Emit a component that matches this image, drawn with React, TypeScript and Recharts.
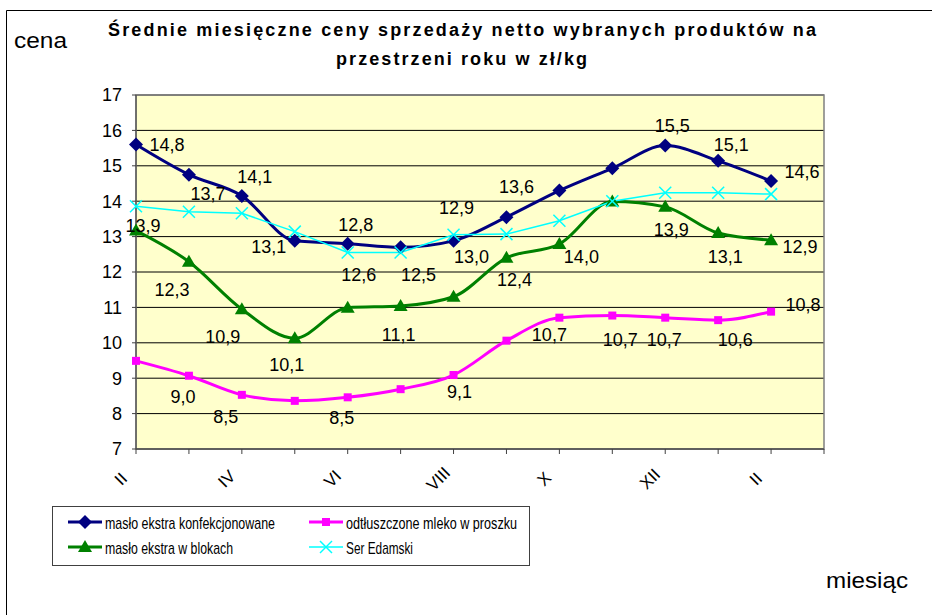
import React from 'react';
import { LineChart, Line, XAxis, YAxis, CartesianGrid, ReferenceArea } from 'recharts';

// miesiące (luty -> luty następnego roku)
const months = ['II', 'III', 'IV', 'V', 'VI', 'VII', 'VIII', 'IX', 'X', 'XI', 'XII', 'I', 'II'];

// ceny w zł/kg
const masloKonf = [15.6, 14.75, 14.15, 12.88, 12.8, 12.7, 12.88, 13.55, 14.3, 14.93, 15.57, 15.14, 14.57];
const mlekoProszek = [9.49, 9.07, 8.53, 8.36, 8.46, 8.69, 9.09, 10.06, 10.71, 10.77, 10.71, 10.64, 10.88];
const masloBloki = [13.17, 12.29, 10.95, 10.13, 10.99, 11.04, 11.3, 12.4, 12.79, 13.99, 13.84, 13.1, 12.9];
const serEdamski = [13.86, 13.7, 13.66, 13.14, 12.55, 12.55, 13.05, 13.07, 13.45, 14.0, 14.24, 14.24, 14.2];

// etykiety danych tak jak na oryginale
const masloKonfLabels = ['14,8', null, '14,1', null, '12,8', null, '12,9', '13,6', null, null, '15,5', '15,1', '14,6'];
const mlekoLabels = [null, '9,0', '8,5', null, '8,5', null, '9,1', null, '10,7', '10,7', '10,7', '10,6', '10,8'];
const masloBlokiLabels = [null, '12,3', '10,9', '10,1', null, '11,1', null, '12,4', '14,0', null, '13,9', '13,1', '12,9'];
const serLabels = ['13,9', '13,7', null, '13,1', '12,6', '12,5', '13,0', null, null, null, null, null, null];

const yTicks = [7, 8, 9, 10, 11, 12, 13, 14, 15, 16, 17];

const data = months.map((m, i) => ({
  i,
  month: m,
  konf: masloKonf[i],
  mleko: mlekoProszek[i],
  bloki: masloBloki[i],
  ser: serEdamski[i],
}));

// where each data label sits relative to its point (dx, dy)
const konfOff: Record<number, [number, number]> = {
  0: [31, 0], 2: [13, -19], 4: [8, -19], 6: [3, -33], 7: [10, -30], 10: [7, -20], 11: [13, -16], 12: [31, -9],
};
const serOff: Record<number, [number, number]> = {
  0: [7, 20], 1: [19, -18], 3: [-26, 15], 4: [11, 22], 5: [18, 22], 6: [18, 22],
};
const blokiOff: Record<number, [number, number]> = {
  1: [-17, 28], 2: [-19, 28], 3: [-8, 27], 5: [-2, 29], 7: [8, 22], 8: [22, 13], 10: [6, 23], 11: [7, 24], 12: [29, 7],
};
const mlekoOff: Record<number, [number, number]> = {
  1: [-6, 21], 2: [-16, 22], 4: [-6, 21], 6: [6, 17], 8: [-10, 17], 9: [8, 24], 10: [-1, 22], 11: [17, 20], 12: [32, -7],
};

const FONT = '"Liberation Sans", Arial, sans-serif';
const NAVY = '#000080';
const GREEN = '#008000';
const PINK = '#FF00FF';
const CYAN = '#00FFFF';

const Marker = ({ kind, cx, cy, color }: { kind: string; cx: number; cy: number; color: string }) => {
  if (kind === 'diamond')
    return <polygon points={`${cx},${cy - 7} ${cx + 7},${cy} ${cx},${cy + 7} ${cx - 7},${cy}`} fill={color} />;
  if (kind === 'triangle')
    return <polygon points={`${cx},${cy - 7} ${cx + 7},${cy + 5} ${cx - 7},${cy + 5}`} fill={color} />;
  if (kind === 'square') return <rect x={cx - 4} y={cy - 4} width={8} height={8} fill={color} />;
  return (
    <g stroke={color} strokeWidth={1.5}>
      <line x1={cx - 6} y1={cy - 6} x2={cx + 6} y2={cy + 6} />
      <line x1={cx - 6} y1={cy + 6} x2={cx + 6} y2={cy - 6} />
    </g>
  );
};

const makeDot = (kind: string, color: string, labels: (string | null)[], offs: Record<number, [number, number]>) =>
  (props: any) => {
    const { cx, cy, index } = props;
    const t = labels[index];
    const o = offs[index] || [0, 0];
    return (
      <g key={`dot-${kind}-${index}`}>
        <Marker kind={kind} cx={cx} cy={cy} color={color} />
        {t && (
          <text x={cx + o[0]} y={cy + o[1]} textAnchor="middle" dominantBaseline="central"
            fontSize={18} fontFamily={FONT} fill="#000">{t}</text>
        )}
      </g>
    );
  };

const MonthTick = (props: any) => {
  const { x, y, payload } = props;
  const idx = payload.value;
  if (idx % 2 !== 0 || !months[idx]) return null;
  const cx = x - 15;
  const cy = y + 25;
  return (
    <text x={cx} y={cy} textAnchor="middle" dominantBaseline="central" fontSize={17} fontFamily={FONT}
      fill="#000" transform={`rotate(-45 ${cx} ${cy})`}>{months[idx]}</text>
  );
};

const legendItems = [
  { name: 'masło ekstra konfekcjonowane', color: NAVY, kind: 'diamond', w: 3, col: 0, row: 0, len: 170 },
  { name: 'odtłuszczone mleko w proszku', color: PINK, kind: 'square', w: 3, col: 1, row: 0, len: 171 },
  { name: 'masło ekstra w blokach', color: GREEN, kind: 'triangle', w: 3, col: 0, row: 1, len: 128 },
  { name: 'Ser Edamski', color: CYAN, kind: 'x', w: 1.5, col: 1, row: 1, len: 67 },
];

export default function App() {
  return (
    <div style={{ position: 'absolute', left: 0, top: 0, width: 932, height: 615, background: '#fff', overflow: 'hidden' }}>
      <LineChart width={932} height={615} data={data} margin={{ top: 95, right: 108, left: 76, bottom: 126 }}>
        <CartesianGrid horizontal vertical={false} stroke="#000" fill="#FFFFCC" fillOpacity={1} />
        <ReferenceArea x1={0} x2={13} y1={7} y2={17} fill="none" stroke="#808080" strokeWidth={1.5} ifOverflow="visible" />
        <XAxis dataKey="i" type="number" domain={[0, 13]} ticks={[0, 1, 2, 3, 4, 5, 6, 7, 8, 9, 10, 11, 12, 13]}
          interval={0} height={40} tickSize={5} tickMargin={0} stroke="#404040" tick={<MonthTick />} />
        <YAxis domain={[7, 17]} ticks={yTicks} interval={0} width={60} tickSize={4} tickMargin={10} stroke="#404040"
          tick={{ fontSize: 18, fontFamily: FONT, fill: '#000' }} />
        <Line type="monotone" dataKey="konf" stroke={NAVY} strokeWidth={3} isAnimationActive={false}
          dot={makeDot('diamond', NAVY, masloKonfLabels, konfOff)} />
        <Line type="monotone" dataKey="mleko" stroke={PINK} strokeWidth={3} isAnimationActive={false}
          dot={makeDot('square', PINK, mlekoLabels, mlekoOff)} />
        <Line type="monotone" dataKey="bloki" stroke={GREEN} strokeWidth={3} isAnimationActive={false}
          dot={makeDot('triangle', GREEN, masloBlokiLabels, blokiOff)} />
        <Line type="linear" dataKey="ser" stroke={CYAN} strokeWidth={1.5} isAnimationActive={false}
          dot={makeDot('x', CYAN, serLabels, serOff)} />
      </LineChart>
      <svg width={932} height={615} style={{ position: 'absolute', left: 0, top: 0, pointerEvents: 'none' }}>
        <line x1={6.5} y1={10.5} x2={932} y2={10.5} stroke="#000" />
        <line x1={6.5} y1={10.5} x2={6.5} y2={615} stroke="#000" />
        <text x={108} y={36} fontSize={18} fontWeight="bold" fontFamily={FONT} textLength={708} lengthAdjust="spacing">
          Średnie miesięczne ceny sprzedaży netto wybranych produktów na
        </text>
        <text x={336} y={65} fontSize={18} fontWeight="bold" fontFamily={FONT} textLength={251} lengthAdjust="spacing">
          przestrzeni roku w zł/kg
        </text>
        <text x={14} y={48} fontSize={22} fontFamily={FONT} textLength={53} lengthAdjust="spacingAndGlyphs">cena</text>
        <text x={826} y={588} fontSize={22} fontFamily={FONT} textLength={82} lengthAdjust="spacingAndGlyphs">miesiąc</text>
        <rect x={52.5} y={506.5} width={477} height={59} fill="#fff" stroke="#404040" />
        {legendItems.map((it) => {
          const x0 = it.col === 0 ? 68 : 309;
          const y0 = it.row === 0 ? 522 : 547;
          return (
            <g key={it.name}>
              <line x1={x0} y1={y0} x2={x0 + 34} y2={y0} stroke={it.color} strokeWidth={it.w} />
              <Marker kind={it.kind} cx={x0 + 17} cy={y0} color={it.color} />
              <text x={x0 + 37} y={y0 + 1} dominantBaseline="central" fontSize={17} fontFamily={FONT}
                textLength={it.len} lengthAdjust="spacingAndGlyphs">{it.name}</text>
            </g>
          );
        })}
      </svg>
    </div>
  );
}
